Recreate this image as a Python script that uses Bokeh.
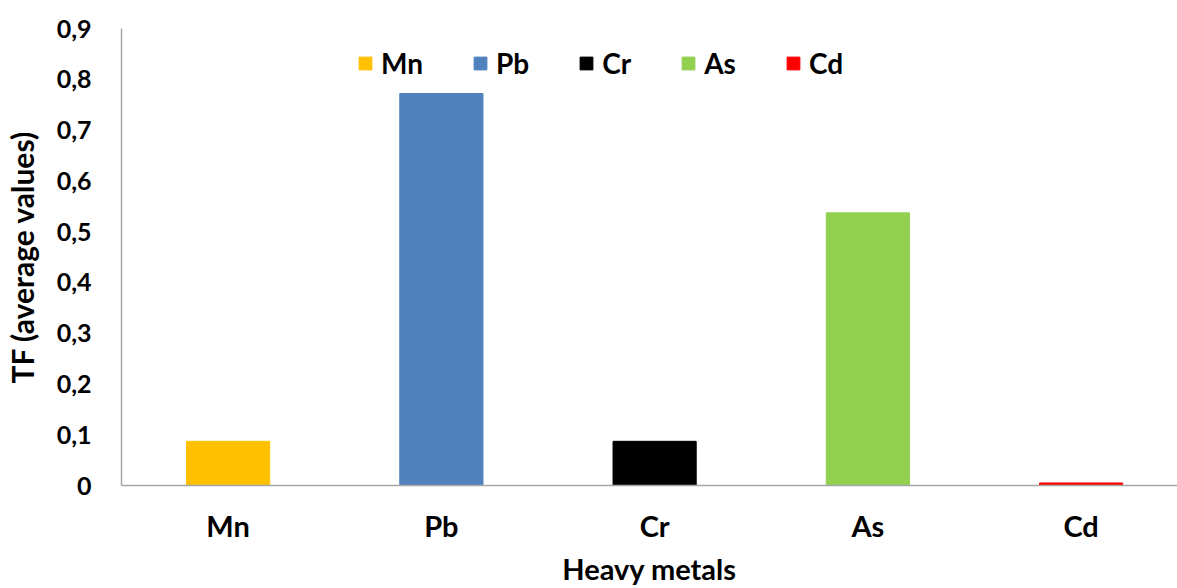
from bokeh.plotting import figure
from bokeh.models import ColumnDataSource, Range1d, Legend, LegendItem, FixedTicker, CustomJSTickFormatter
from bokeh.embed import file_html
from bokeh.resources import INLINE

# Translocation factor (average values) per heavy metal
metals = ["Mn", "Pb", "Cr", "As", "Cd"]
tf_values = [0.087, 0.772, 0.087, 0.537, 0.005]
colors = ["#FFC000", "#4F81BD", "#000000", "#92D050", "#FF0000"]
y_ticks = [0, 0.1, 0.2, 0.3, 0.4, 0.5, 0.6, 0.7, 0.8, 0.9]

FONT = "Lato"
AXIS_GRAY = "#A6A6A6"

positions = [i + 0.5 for i in range(len(metals))]
source = ColumnDataSource(dict(x=positions, top=tf_values, color=colors, metal=metals))

p = figure(width=1177, height=588, output_backend="svg", toolbar_location=None,
           x_range=Range1d(0, 4.952), y_range=Range1d(0, 0.9),
           min_border_left=121, min_border_right=0, min_border_top=28, min_border_bottom=103)

renderer = p.vbar(x="x", top="top", width=0.39, color="color", source=source)

p.grid.visible = False
p.outline_line_color = None
p.background_fill_color = "white"
p.border_fill_color = "white"

# x axis: one label per metal
p.xaxis.ticker = FixedTicker(ticks=positions)
p.xaxis.major_label_overrides = {pos: m for pos, m in zip(positions, metals)}
p.xaxis.axis_label = "Heavy metals"

# y axis: comma as decimal separator
p.yaxis.ticker = FixedTicker(ticks=y_ticks)
p.yaxis.formatter = CustomJSTickFormatter(code="return tick == 0 ? '0' : tick.toFixed(1).replace('.', ',');")
p.yaxis.axis_label = "TF (average values)"

for ax in (p.xaxis[0], p.yaxis[0]):
    ax.axis_line_color = AXIS_GRAY
    ax.axis_line_width = 1.5
    ax.major_tick_line_color = None
    ax.minor_tick_line_color = None
    ax.major_tick_out = 0
    ax.major_tick_in = 0
    ax.major_label_text_font = FONT
    ax.major_label_text_font_style = "bold"
    ax.major_label_text_color = "black"
    ax.axis_label_text_font = FONT
    ax.axis_label_text_font_style = "bold"
    ax.axis_label_text_color = "black"

p.xaxis.major_label_text_font_size = "29px"
p.xaxis.major_label_standoff = 22
p.xaxis.axis_label_text_font_size = "29px"
p.xaxis.axis_label_standoff = 5

p.yaxis.major_label_text_font_size = "25px"
p.yaxis.major_label_standoff = 30
p.yaxis.axis_label_text_font_size = "30px"
p.yaxis.axis_label_standoff = 14

items = [LegendItem(label=m, renderers=[renderer], index=i) for i, m in enumerate(metals)]
legend = Legend(items=items, orientation="horizontal", location=(236, 405),
                glyph_width=16, glyph_height=16, label_standoff=8, spacing=49,
                padding=0, margin=0, border_line_color=None, background_fill_alpha=0,
                label_text_font=FONT, label_text_font_style="bold",
                label_text_font_size="28px", label_text_color="black")
p.add_layout(legend, "center")

with open("out.html", "w") as f:
    f.write(file_html(p, INLINE))
